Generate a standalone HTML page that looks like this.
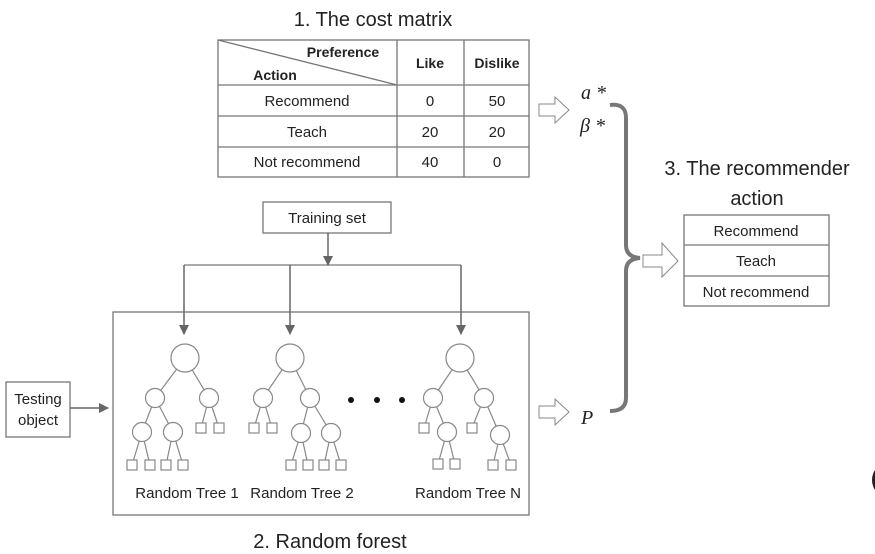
<!DOCTYPE html>
<html><head><meta charset="utf-8"><style>
html,body{margin:0;padding:0;background:#fff;}
svg{display:block;font-family:"Liberation Sans",sans-serif;}
</style></head><body>
<svg width="875" height="554" viewBox="0 0 875 554" xmlns="http://www.w3.org/2000/svg">
<defs>
<marker id="ah" markerWidth="10" markerHeight="10" refX="9" refY="5" orient="auto" markerUnits="userSpaceOnUse"><path d="M0,0 L10,5 L0,10 Z" fill="#666"/></marker>
</defs>
<g fill="#222" text-anchor="middle">
<text x="373" y="26" font-size="20">1. The cost matrix</text>
<text x="330" y="548" font-size="20">2. Random forest</text>
<text x="757" y="175" font-size="20">3. The recommender</text>
<text x="757" y="205" font-size="20">action</text>
</g>
<!-- cost table -->
<g stroke="#777" stroke-width="1.3" fill="none">
<rect x="218" y="40" width="311" height="137"/>
<line x1="218" y1="85" x2="529" y2="85"/>
<line x1="218" y1="116" x2="529" y2="116"/>
<line x1="218" y1="147" x2="529" y2="147"/>
<line x1="397" y1="40" x2="397" y2="177"/>
<line x1="464" y1="40" x2="464" y2="177"/>
<line x1="218" y1="40" x2="397" y2="85"/>
</g>
<g font-size="15" fill="#222" text-anchor="middle">
<text x="343" y="57" font-weight="bold" font-size="14">Preference</text>
<text x="275" y="80" font-weight="bold" font-size="14">Action</text>
<text x="430" y="68" font-weight="bold" font-size="14">Like</text>
<text x="497" y="68" font-weight="bold" font-size="14">Dislike</text>
<text x="307" y="106">Recommend</text><text x="430" y="106">0</text><text x="497" y="106">50</text>
<text x="307" y="137">Teach</text><text x="430" y="137">20</text><text x="497" y="137">20</text>
<text x="307" y="167">Not recommend</text><text x="430" y="167">40</text><text x="497" y="167">0</text>
</g>
<!-- training -->
<g stroke="#777" stroke-width="1.3" fill="none">
<rect x="263" y="202" width="128" height="31"/>
<rect x="113" y="312" width="416" height="203"/>
<rect x="6" y="382" width="64" height="55"/>
<line x1="184" y1="265" x2="461" y2="265"/>
</g>
<text x="327" y="223" font-size="15" text-anchor="middle" fill="#222">Training set</text>
<text x="38" y="404" font-size="15" text-anchor="middle" fill="#222">Testing</text>
<text x="38" y="425" font-size="15" text-anchor="middle" fill="#222">object</text>
<g stroke="#666" stroke-width="1.5" marker-end="url(#ah)">
<line x1="328" y1="233" x2="328" y2="265"/>
<line x1="184" y1="265" x2="184" y2="334"/>
<line x1="290" y1="265" x2="290" y2="334"/>
<line x1="461" y1="265" x2="461" y2="334"/>
<line x1="70" y1="408" x2="108" y2="408"/>
</g>
<!-- trees -->
<g stroke="#888" stroke-width="1.2" fill="#fff">
<!-- tree1 -->
<line x1="185" y1="358" x2="155" y2="398"/><line x1="185" y1="358" x2="209" y2="398"/>
<line x1="155" y1="398" x2="142" y2="432"/><line x1="155" y1="398" x2="173" y2="432"/>
<line x1="209" y1="398" x2="201" y2="428"/><line x1="209" y1="398" x2="219" y2="428"/>
<line x1="142" y1="432" x2="132" y2="465"/><line x1="142" y1="432" x2="150" y2="465"/>
<line x1="173" y1="432" x2="166" y2="465"/><line x1="173" y1="432" x2="183" y2="465"/>
<circle cx="185" cy="358" r="14"/><circle cx="155" cy="398" r="9.5"/><circle cx="209" cy="398" r="9.5"/>
<circle cx="142" cy="432" r="9.5"/><circle cx="173" cy="432" r="9.5"/>
<rect x="196" y="423" width="10" height="10"/><rect x="214" y="423" width="10" height="10"/>
<rect x="127" y="460" width="10" height="10"/><rect x="145" y="460" width="10" height="10"/>
<rect x="161" y="460" width="10" height="10"/><rect x="178" y="460" width="10" height="10"/>
<!-- tree2 -->
<line x1="290" y1="358" x2="263" y2="398"/><line x1="290" y1="358" x2="310" y2="398"/>
<line x1="263" y1="398" x2="254" y2="428"/><line x1="263" y1="398" x2="272" y2="428"/>
<line x1="310" y1="398" x2="301" y2="433"/><line x1="310" y1="398" x2="331" y2="433"/>
<line x1="301" y1="433" x2="291" y2="465"/><line x1="301" y1="433" x2="308" y2="465"/>
<line x1="331" y1="433" x2="324" y2="465"/><line x1="331" y1="433" x2="341" y2="465"/>
<circle cx="290" cy="358" r="14"/><circle cx="263" cy="398" r="9.5"/><circle cx="310" cy="398" r="9.5"/>
<circle cx="301" cy="433" r="9.5"/><circle cx="331" cy="433" r="9.5"/>
<rect x="249" y="423" width="10" height="10"/><rect x="267" y="423" width="10" height="10"/>
<rect x="286" y="460" width="10" height="10"/><rect x="303" y="460" width="10" height="10"/>
<rect x="319" y="460" width="10" height="10"/><rect x="336" y="460" width="10" height="10"/>
<!-- treeN -->
<line x1="460" y1="358" x2="433" y2="398"/><line x1="460" y1="358" x2="484" y2="398"/>
<line x1="433" y1="398" x2="424" y2="428"/><line x1="433" y1="398" x2="447" y2="432"/>
<line x1="484" y1="398" x2="472" y2="428"/><line x1="484" y1="398" x2="500" y2="435"/>
<line x1="447" y1="432" x2="438" y2="464"/><line x1="447" y1="432" x2="455" y2="464"/>
<line x1="500" y1="435" x2="493" y2="465"/><line x1="500" y1="435" x2="511" y2="465"/>
<circle cx="460" cy="358" r="14"/><circle cx="433" cy="398" r="9.5"/><circle cx="484" cy="398" r="9.5"/>
<circle cx="447" cy="432" r="9.5"/><circle cx="500" cy="435" r="9.5"/>
<rect x="419" y="423" width="10" height="10"/><rect x="467" y="423" width="10" height="10"/>
<rect x="433" y="459" width="10" height="10"/><rect x="450" y="459" width="10" height="10"/>
<rect x="488" y="460" width="10" height="10"/><rect x="506" y="460" width="10" height="10"/>
</g>
<g fill="#111"><circle cx="351" cy="400" r="3"/><circle cx="377" cy="400" r="3"/><circle cx="402" cy="400" r="3"/></g>
<g font-size="15" fill="#222" text-anchor="middle">
<text x="187" y="498">Random Tree 1</text>
<text x="302" y="498">Random Tree 2</text>
<text x="468" y="498">Random Tree N</text>
</g>
<!-- hollow arrows -->
<g stroke="#888" stroke-width="1" fill="#fff">
<path d="M539,104 L555,104 L555,97 L569,110 L555,123 L555,116 L539,116 Z"/>
<path d="M539,406 L555,406 L555,399 L569,412 L555,425 L555,418 L539,418 Z"/>
<path d="M643,255 L662,255 L662,243 L678,261 L662,277 L662,267 L643,267 Z"/>
</g>
<g font-family="Liberation Serif,serif" font-style="italic" font-size="20" fill="#222">
<text x="581" y="99">a *</text>
<text x="580" y="132">β *</text>
<text x="581" y="424">P</text>
</g>
<!-- brace -->
<path d="M610,105 Q626,103 626,118 L626,245 Q626,257 640,258 Q626,259 626,271 L626,398 Q626,411 610,411" stroke="#777" stroke-width="4" fill="none"/>
<!-- action table -->
<g stroke="#777" stroke-width="1.3" fill="none">
<rect x="684" y="215" width="145" height="91"/>
<line x1="684" y1="245" x2="829" y2="245"/>
<line x1="684" y1="276" x2="829" y2="276"/>
</g>
<g font-size="15" fill="#222" text-anchor="middle">
<text x="756" y="236">Recommend</text>
<text x="756" y="266">Teach</text>
<text x="756" y="297">Not recommend</text>
</g>
<circle cx="890" cy="480" r="18" fill="#222"/>
</svg>
</body></html>
